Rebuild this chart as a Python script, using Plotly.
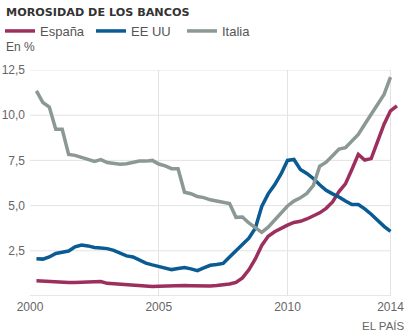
import plotly.graph_objects as go

# Quarterly observations (decimal year)
quarters = [2000.25 + 0.25 * i for i in range(56)]
quarters_es = quarters + [2014.25]

espana = [0.85, 0.82, 0.80, 0.77, 0.75, 0.74, 0.74, 0.75, 0.77, 0.79, 0.80,
          0.70, 0.68, 0.65, 0.62, 0.59, 0.56, 0.53, 0.52, 0.54, 0.55, 0.57,
          0.60, 0.58, 0.57, 0.56, 0.56, 0.56, 0.58, 0.61, 0.66, 0.75, 1.00,
          1.45, 2.05, 2.80, 3.30, 3.55, 3.75, 3.92, 4.07, 4.13, 4.26, 4.41,
          4.60, 4.85, 5.20, 5.78, 6.20, 7.00, 7.83, 7.52, 7.60, 8.55, 9.50,
          10.24, 10.52]

eeuu = [2.06, 2.04, 2.16, 2.35, 2.42, 2.49, 2.72, 2.82, 2.77, 2.68, 2.65,
        2.62, 2.52, 2.35, 2.22, 2.16, 2.00, 1.82, 1.72, 1.65, 1.56, 1.46,
        1.52, 1.58, 1.50, 1.40, 1.56, 1.70, 1.74, 1.80, 2.16, 2.50, 2.85,
        3.20, 3.75, 4.95, 5.65, 6.15, 6.75, 7.50, 7.55, 7.00, 6.78, 6.50,
        6.15, 5.85, 5.65, 5.48, 5.25, 5.06, 5.06, 4.82, 4.52, 4.15, 3.85,
        3.57]

italia = [11.35, 10.70, 10.45, 9.22, 9.22, 7.83, 7.78, 7.69, 7.56, 7.44, 7.54,
          7.38, 7.33, 7.29, 7.32, 7.40, 7.47, 7.46, 7.50, 7.30, 7.20, 7.04,
          7.04, 5.74, 5.66, 5.50, 5.44, 5.32, 5.25, 5.18, 5.11, 4.35, 4.37,
          4.04, 3.80, 3.52, 3.81, 4.20, 4.65, 4.98, 5.25, 5.43, 5.67, 6.10,
          7.18, 7.40, 7.76, 8.13, 8.20, 8.58, 8.94, 9.50, 10.05, 10.60, 11.15,
          12.10]

series_names = ["España", "EE UU", "Italia"]
series_colors = ["#9c2f5d", "#0a5b94", "#8b9893"]

x_ticks = [2000, 2005, 2010, 2014]
x_ticklabels = ["2000", "2005", "2010", "2014"]
y_ticks = [2.5, 5.0, 7.5, 10.0, 12.5]
y_ticklabels = ["2,5", "5,0", "7,5", "10,0", "12,5"]

FONT = "Liberation Sans, Arial, sans-serif"

fig = go.Figure()
for name, xs, ys, col in zip(series_names, [quarters_es, quarters, quarters],
                             [espana, eeuu, italia], series_colors):
    fig.add_trace(go.Scatter(x=xs, y=ys, mode="lines", name=name,
                             line=dict(color=col, width=3.5),
                             hoverinfo="skip"))

# horizontal gridlines ending at 2014
for v in y_ticks:
    fig.add_shape(type="line", xref="x", yref="y", x0=2000, x1=2014, y0=v, y1=v,
                  line=dict(color="#e3e3e3", width=1), layer="below")
fig.add_shape(type="line", xref="x", yref="y", x0=2000, x1=2014, y0=0, y1=0,
              line=dict(color="#cfcfcf", width=1), layer="below")

fig.update_layout(
    width=414, height=336,
    margin=dict(l=30, r=15, t=70, b=40, autoexpand=False),
    paper_bgcolor="white", plot_bgcolor="white",
    font=dict(family=FONT, size=12, color="#555"),
    showlegend=True,
    legend=dict(orientation="h", xref="container", yref="container",
                x=0.0, y=1 - 31 / 336, xanchor="left", yanchor="middle",
                font=dict(size=13, color="#555", family=FONT),
                entrywidth=46, entrywidthmode="pixels",
                itemwidth=30, bgcolor="rgba(0,0,0,0)", borderwidth=0,
                traceorder="normal"),
    xaxis=dict(range=[2000, 2014.33], tickvals=x_ticks, ticktext=x_ticklabels,
               showgrid=True, gridcolor="#e3e3e3", gridwidth=1,
               zeroline=False, showline=False, ticks="",
               tickfont=dict(size=12, color="#666", family=FONT),
               ticklabelstandoff=2, fixedrange=True),
    yaxis=dict(range=[0, 12.5], tickvals=y_ticks, ticktext=y_ticklabels,
               showgrid=False, zeroline=False, showline=False, ticks="",
               tickfont=dict(size=12, color="#666", family=FONT),
               ticklabelstandoff=4, fixedrange=True),
    annotations=[
        dict(text="<b>MOROSIDAD DE LOS BANCOS</b>", xref="paper", yref="paper",
             x=-26 / 369, y=(296 - 12) / 226, xanchor="left", yanchor="middle",
             showarrow=False, font=dict(family="DejaVu Sans, Verdana, sans-serif",
                                        size=11.2, color="#333")),
        dict(text="En %", xref="paper", yref="paper",
             x=-26 / 369, y=(296 - 47) / 226, xanchor="left", yanchor="middle",
             showarrow=False, font=dict(family=FONT, size=12, color="#555")),
        dict(text="EL PAÍS", xref="paper", yref="paper",
             x=(407 - 30) / 369, y=(296 - 326) / 226, xanchor="right",
             yanchor="middle", showarrow=False,
             font=dict(family=FONT, size=11.5, color="#666")),
    ],
)

fig.write_html("out.html", config={"displayModeBar": False})
